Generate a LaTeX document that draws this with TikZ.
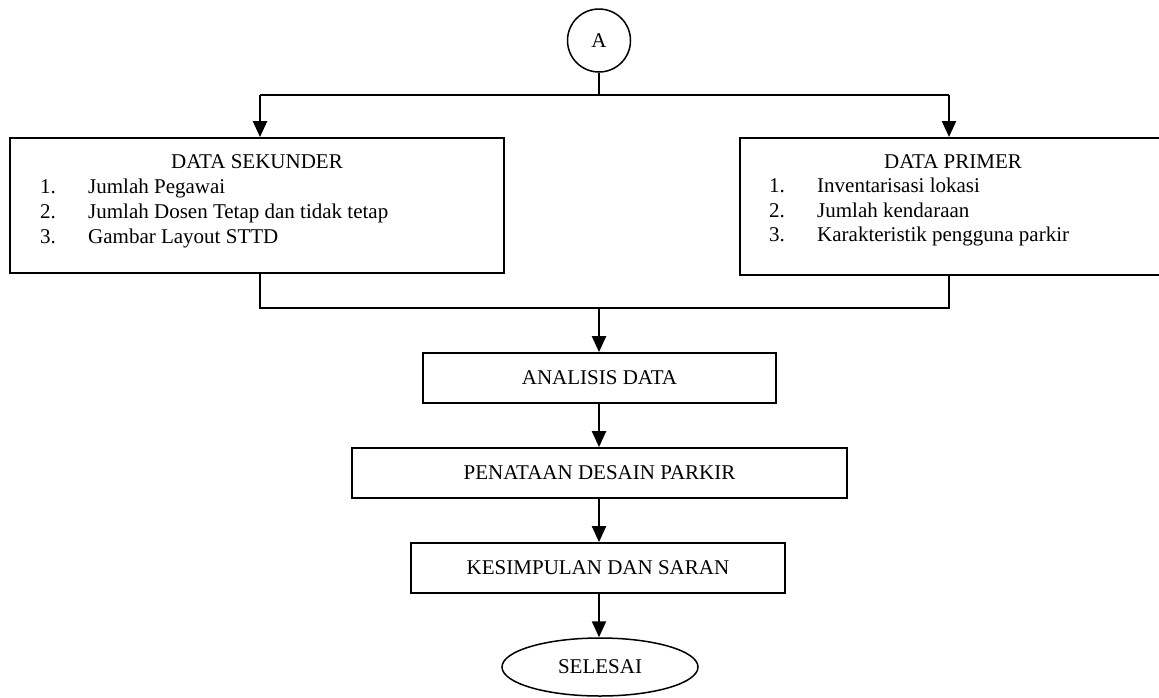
\documentclass[tikz,border=0pt]{standalone}
\usepackage{fontspec}
\setmainfont{Liberation Serif}
\usetikzlibrary{arrows.meta,shapes.geometric}
\begin{document}
\begin{tikzpicture}[x=1pt,y=-1pt,
  lbl/.style={font=\fontsize{21}{25}\selectfont},
  box/.style={draw, line width=1.8pt, inner sep=0pt, lbl},
  flow/.style={line width=2.2pt, -{Triangle[length=16pt,width=14pt]}},
  link/.style={line width=2.2pt},
  thinlink/.style={line width=1.3pt},
  txt/.style={anchor=base west, inner sep=0pt, lbl},
  ttl/.style={anchor=base, inner sep=0pt, lbl}]
\useasboundingbox (0,0) rectangle (1159,697);
\clip (0,0) rectangle (1159,697);
% nodes
\node[draw, circle, line width=1.5pt, minimum size=63pt, inner sep=0pt, lbl] (A) at (599,40.5) {A};
\node[box, minimum width=494pt, minimum height=135pt] (sek) at (257,205.5) {};
\node[box, minimum width=440pt, minimum height=137pt, anchor=north west] (pri) at (739,137) {};
\node[box, minimum width=353pt, minimum height=50pt] (ana) at (599.5,378) {ANALISIS DATA};
\node[box, minimum width=495pt, minimum height=50pt] (pen) at (599.5,473) {PENATAAN DESAIN PARKIR};
\node[box, minimum width=374pt, minimum height=50pt] (kes) at (598,568) {KESIMPULAN DAN SARAN};
\node[draw, ellipse, line width=1.5pt, minimum width=196pt, minimum height=58pt, inner sep=0pt, lbl] (sel) at (600,667) {SELESAI};
% texts in list boxes
\node[ttl] (sekT) at (257,168) {DATA SEKUNDER};
\node[txt] (s1n) at (40,193) {1.};
\node[txt] (s1) at (88,193) {Jumlah Pegawai};
\node[txt] (s2n) at (40,218) {2.};
\node[txt] (s2) at (88,218) {Jumlah Dosen Tetap dan tidak tetap};
\node[txt] (s3n) at (40,243) {3.};
\node[txt] (s3) at (88,243) {Gambar Layout STTD};
\node[ttl] (priT) at (953,168) {DATA PRIMER};
\node[txt] (p1n) at (769,192) {1.};
\node[txt] (p1) at (817,192) {Inventarisasi lokasi};
\node[txt] (p2n) at (769,217) {2.};
\node[txt] (p2) at (817,217) {Jumlah kendaraan};
\node[txt] (p3n) at (769,241) {3.};
\node[txt] (p3) at (817,241) {Karakteristik pengguna parkir};
% coordinates
\coordinate (top) at (599,95);
\coordinate (tl) at (260,95);
\coordinate (tr) at (949,95);
\coordinate (bl) at (260,308);
\coordinate (br) at (949,308);
\coordinate (mid) at (599,308);
% connectors
\draw[thinlink] (A.south) -- (top);
\draw[link] (tl) -- (tr);
\draw[flow] (tl) -- (tl |- sek.north);
\draw[flow] (tr) -- (tr |- pri.north);
\draw[link] (bl |- sek.south) -- (bl) -- (br) -- (br |- pri.south);
\draw[flow] (mid) -- (mid |- ana.north);
\draw[flow] (ana.south -| mid) -- (mid |- pen.north);
\draw[flow] (pen.south -| mid) -- (mid |- kes.north);
\draw[flow] (kes.south -| mid) -- (mid |- sel.north);
\end{tikzpicture}
\end{document}
